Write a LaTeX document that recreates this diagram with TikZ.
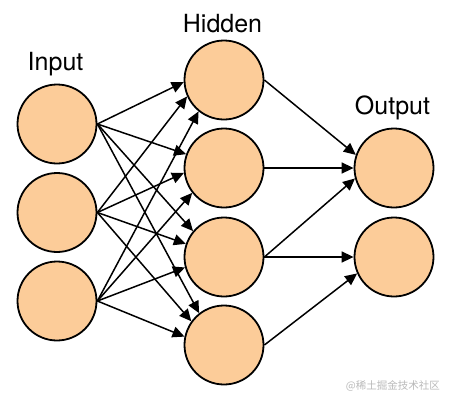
\documentclass[tikz,border=0pt]{standalone}
\usepackage{fontspec}
\setmainfont{TeX Gyre Heros}
\newfontfamily\cjkfont{Noto Sans CJK SC}
\usetikzlibrary{arrows.meta}
\definecolor{NeuronFill}{RGB}{252,204,153}
\definecolor{MarkGray}{RGB}{185,185,185}
\tikzset{
	>={Triangle[length=12pt,width=11pt]},
	neuron/.style={circle, draw=black, line width=1.8pt, fill=NeuronFill, minimum size=79pt, inner sep=0pt},
	link/.style={black, line width=1.5pt, ->},
	layerlabel/.style={font=\fontsize{25}{30}\selectfont, anchor=base, inner sep=0pt},
	watermark/.style={MarkGray, font=\cjkfont\fontsize{10.5}{12}\selectfont, inner sep=0pt},
}

\begin{document}
\begin{tikzpicture}[x=1pt, y=-1pt]
		\useasboundingbox (0,0) rectangle (450,402);
		
		% layer titles
		\node[layerlabel] (LI) at (55.5,70) {Input};
		\node[layerlabel] (LH) at (222.5,32) {Hidden};
		\node[layerlabel] (LO) at (392.5,114) {Output};
		
		% input layer
		\node[neuron] (I1) at (57,124) {};
		\node[neuron] (I2) at (57,212.5) {};
		\node[neuron] (I3) at (57,301) {};
		
		% hidden layer
		\node[neuron] (H1) at (224,80) {};
		\node[neuron] (H2) at (224,168) {};
		\node[neuron] (H3) at (224,257) {};
		\node[neuron] (H4) at (224,345) {};
		
		% output layer
		\node[neuron] (O1) at (394,168) {};
		\node[neuron] (O2) at (394,257) {};
		
		% input -> hidden
		\draw[link] (I1.east) -- (H1.183);
		\draw[link] (I1.east) -- (H2.160);
		\draw[link] (I1.east) -- (H3.140);
		\draw[link] (I1.east) -- (H4.128);
		\draw[link] (I2.east) -- (H1.204);
		\draw[link] (I2.east) -- (H2.187);
		\draw[link] (I2.east) -- (H3.161);
		\draw[link] (I2.east) -- (H4.144);
		\draw[link] (I3.east) -- (H1.231);
		\draw[link] (I3.east) -- (H2.218);
		\draw[link] (I3.east) -- (H3.195);
		\draw[link] (I3.east) -- (H4.168);
		
		% hidden -> output
		\draw[link] (H1.east) -- (O1.161);
		\draw[link] (H2.east) -- (O1.west);
		\draw[link] (H3.east) -- (O1.195);
		\draw[link] (H3.east) -- (O2.west);
		\draw[link] (H4.east) -- (O2.204);
		
		\node[watermark, anchor=east] (WM) at (440,386) {@稀土掘金技术社区};
	\end{tikzpicture}
\end{document}
